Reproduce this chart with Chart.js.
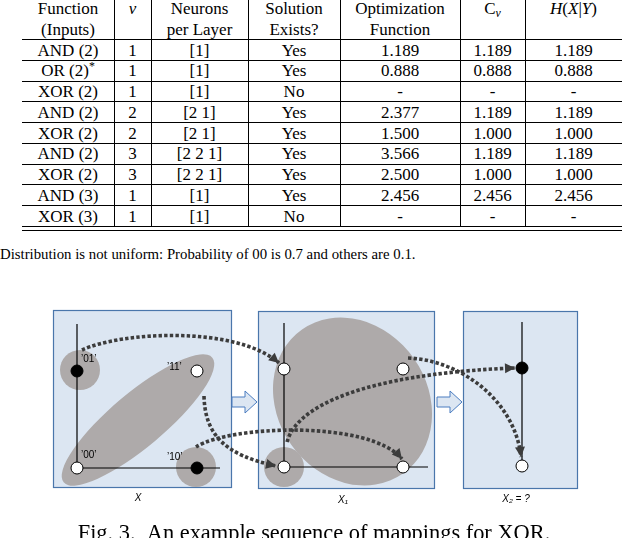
<!DOCTYPE html>
<html><head><meta charset="utf-8">
<script src="https://cdn.jsdelivr.net/npm/chart.js@4.4.0/dist/chart.umd.min.js"></script>
<style>
html,body{margin:0;padding:0;background:#fff;}
#page{position:relative;width:624px;height:538px;overflow:hidden;font-family:"Liberation Serif","Times New Roman",serif;color:#000;}
.cell{position:absolute;text-align:center;font-size:17px;line-height:21px;white-space:nowrap;}
.hl{position:absolute;height:1px;background:#000;}
.vl{position:absolute;width:1px;background:#000;}
#note{position:absolute;left:0;top:245px;font-size:14.8px;line-height:18px;white-space:nowrap;}
#cv{position:absolute;left:0;top:290px;}
#caption{position:absolute;left:0;width:628px;top:522px;text-align:center;font-size:22.4px;line-height:22px;white-space:nowrap;}
i{font-style:italic;}
sub{font-size:70%;vertical-align:-3px;line-height:0;}
sup{font-size:70%;vertical-align:6px;line-height:0;}
</style>
</head><body>
<div id="page">
  <div id="table"></div>
  <div id="note">Distribution is not uniform: Probability of 00 is 0.7 and others are 0.1.</div>
  <canvas id="cv" width="624" height="248"></canvas>
  <div id="caption">Fig. 3.&nbsp;&nbsp;An example sequence of mappings for XOR.</div>
</div>
<script>
// ---------- table data ----------
const headers = ['Function<br>(Inputs)', '<i>&nu;</i>', 'Neurons<br>per Layer', 'Solution<br>Exists?', 'Optimization<br>Function', 'C<sub><i>&nu;</i></sub>', '<i>H</i>(<i>X</i>|<i>Y</i>)'];
const functions = ['AND (2)', 'OR (2)<sup>*</sup>', 'XOR (2)', 'AND (2)', 'XOR (2)', 'AND (2)', 'XOR (2)', 'AND (3)', 'XOR (3)'];
const nuValues = ['1', '1', '1', '2', '2', '3', '3', '1', '1'];
const neurons = ['[1]', '[1]', '[1]', '[2 1]', '[2 1]', '[2 2 1]', '[2 2 1]', '[1]', '[1]'];
const solutionExists = ['Yes', 'Yes', 'No', 'Yes', 'Yes', 'Yes', 'Yes', 'Yes', 'No'];
const optimization = ['1.189', '0.888', '-', '2.377', '1.500', '3.566', '2.500', '2.456', '-'];
const cNu = ['1.189', '0.888', '-', '1.189', '1.000', '1.189', '1.000', '2.456', '-'];
const hXY = ['1.189', '0.888', '-', '1.189', '1.000', '1.189', '1.000', '2.456', '-'];

// ---------- diagram data ----------
const inputLabels = ['00', '01', '10', '11'];           // input x = (first bit, second bit)
const inputClass = [0, 1, 1, 0];                        // XOR output: 1 = black
const hiddenPoints = [[0, 0], [0, 1], [1, 0], [1, 1]];  // X1 points
const hiddenClass = [0, 0, 0, 0];
const outputValues = [1, 0];                            // X2 values
const outputClass = [1, 0];
const axisLabels = ['X', 'X\u2081', 'X\u2082 = ?'];

// ---------- build table ----------
const colEdges = [22, 114, 151, 248, 340, 460, 525, 622];
const tbl = document.getElementById('table');
function add(cls, style, html) {
  const d = document.createElement('div'); d.className = cls;
  Object.assign(d.style, style); if (html !== undefined) d.innerHTML = html; tbl.appendChild(d);
}
const rowH = 20.75, firstCenter = 50, headLine = 39.5;
headers.forEach((h, c) => {
  add('cell', {left: colEdges[c] + 'px', width: (colEdges[c + 1] - colEdges[c]) + 'px', top: '-2px'}, h);
});
const cols = [functions, nuValues, neurons, solutionExists, optimization, cNu, hXY];
for (let r = 0; r < functions.length; r++) {
  cols.forEach((col, c) => {
    add('cell', {left: colEdges[c] + 'px', width: (colEdges[c + 1] - colEdges[c]) + 'px', top: (firstCenter + rowH * r - 10.5) + 'px'}, col[r]);
  });
}
for (let k = 0; k <= functions.length; k++) {
  add('hl', {left: '22px', width: '600px', top: Math.round(headLine + rowH * k - 0.5) + 'px'});
}
add('hl', {left: '22px', width: '600px', top: '230px'});
for (let c = 1; c < colEdges.length - 1; c++) {
  add('vl', {left: colEdges[c] + 'px', top: '0px', height: '226px'});
}

// ---------- diagram layout ----------
const panels = [
  {ox: 77, oy: 468, ux: 120, uy: 97},
  {ox: 284, oy: 467, ux: 119, uy: 98},
  {ox: 522, oy: 466, ux: 0, uy: 98}
];
const mk = (p, a, b) => ({x: panels[p].ox + panels[p].ux * a, y: panels[p].oy - panels[p].uy * b});
const col = c => c ? '#000000' : '#ffffff';

const ds = [
  {data: inputLabels.map(l => mk(0, +l[0], +l[1])), backgroundColor: inputClass.map(col)},
  {data: hiddenPoints.map(p => mk(1, p[0], p[1])), backgroundColor: hiddenClass.map(col)},
  {data: outputValues.map(v => mk(2, 0, v)), backgroundColor: outputClass.map(col)}
].map(d => Object.assign(d, {borderColor: '#000', borderWidth: 1, pointRadius: 6, pointHoverRadius: 6}));

const GRAY = '#aeaaaa', PANEL = '#dce6f2', EDGE = '#4a76ab', DOT = '#3c3c3c';

const deco = {
  id: 'deco',
  beforeDatasetsDraw(chart) {
    const ctx = chart.ctx, xs = chart.scales.x, ys = chart.scales.y;
    const X = v => xs.getPixelForValue(v), Y = v => ys.getPixelForValue(v);
    ctx.save();
    // panels
    [[53, 310, 231, 487], [258, 311, 434, 488], [463, 311, 577, 488]].forEach(r => {
      ctx.fillStyle = PANEL; ctx.strokeStyle = EDGE; ctx.lineWidth = 1.2;
      ctx.fillRect(X(r[0]), Y(r[1]), X(r[2]) - X(r[0]), Y(r[3]) - Y(r[1]));
      ctx.strokeRect(X(r[0]) + 0.5, Y(r[1]) + 0.5, X(r[2]) - X(r[0]), Y(r[3]) - Y(r[1]));
    });
    // gray groups
    ctx.fillStyle = GRAY;
    const ell = (cx, cy, a, b, ang) => { ctx.beginPath(); ctx.ellipse(X(cx), Y(cy), a, b, ang * Math.PI / 180, 0, Math.PI * 2); ctx.fill(); };
    ell(80, 370, 20, 20, 0);
    ell(196, 467, 20, 20, 0);
    ell(138, 420, 97, 27, -40);
    ell(352.5, 401.5, 88, 75, 55);
    ell(284, 467, 20, 20, 0);
    // axes
    ctx.strokeStyle = '#000'; ctx.lineWidth = 1.2; ctx.setLineDash([]);
    const ln = (x1, y1, x2, y2) => { ctx.beginPath(); ctx.moveTo(X(x1), Y(y1)); ctx.lineTo(X(x2), Y(y2)); ctx.stroke(); };
    ln(77, 324, 77, 468); ln(77, 468, 220, 468);
    ln(284, 323, 284, 467); ln(284, 467, 428, 467);
    ln(522, 322, 522, 466);
    // hollow block arrows
    [[232, 245, 257], [437, 450, 462]].forEach(a => {
      const cy = 402;
      ctx.beginPath();
      ctx.moveTo(X(a[0]), Y(cy - 5)); ctx.lineTo(X(a[1]), Y(cy - 5)); ctx.lineTo(X(a[1]), Y(cy - 11));
      ctx.lineTo(X(a[2]), Y(cy)); ctx.lineTo(X(a[1]), Y(cy + 11)); ctx.lineTo(X(a[1]), Y(cy + 5));
      ctx.lineTo(X(a[0]), Y(cy + 5)); ctx.closePath();
      ctx.fillStyle = PANEL; ctx.fill();
      ctx.strokeStyle = '#4a7cc0'; ctx.lineWidth = 1; ctx.stroke();
    });
    ctx.restore();
  },
  afterDatasetsDraw(chart) {
    const ctx = chart.ctx, xs = chart.scales.x, ys = chart.scales.y;
    const X = v => xs.getPixelForValue(v), Y = v => ys.getPixelForValue(v);
    ctx.save();
    const curves = [
      [[82, 350], [120, 332], [235, 325], [279, 363]],
      [[204, 396], [205, 435], [225, 455], [276, 466]],
      [[196, 447], [230, 425], [370, 420], [402, 459]],
      [[287, 442], [300, 395], [400, 372], [515, 368]],
      [[408, 358], [460, 360], [515, 400], [521, 457]]
    ];
    curves.forEach(c => {
      ctx.strokeStyle = DOT; ctx.lineWidth = 3.6; ctx.setLineDash([3.4, 2.2]); ctx.lineCap = 'butt';
      ctx.beginPath();
      ctx.moveTo(X(c[0][0]), Y(c[0][1]));
      ctx.bezierCurveTo(X(c[1][0]), Y(c[1][1]), X(c[2][0]), Y(c[2][1]), X(c[3][0]), Y(c[3][1]));
      ctx.stroke();
      // arrowhead
      const tx = X(c[3][0]), ty = Y(c[3][1]);
      let dx = tx - X(c[2][0]), dy = ty - Y(c[2][1]);
      const L = Math.hypot(dx, dy); dx /= L; dy /= L;
      const len = 10, hw = 5;
      ctx.setLineDash([]);
      ctx.fillStyle = DOT;
      ctx.beginPath();
      ctx.moveTo(tx, ty);
      ctx.lineTo(tx - dx * len - dy * hw, ty - dy * len + dx * hw);
      ctx.lineTo(tx - dx * len + dy * hw, ty - dy * len - dx * hw);
      ctx.closePath(); ctx.fill();
    });
    // point labels
    ctx.fillStyle = '#000';
    ctx.font = '10px "Liberation Sans", Arial, sans-serif';
    ctx.textBaseline = 'middle'; ctx.textAlign = 'left';
    const lblPos = {'01': [81, 359], '11': [167, 367], '00': [81, 455], '10': [167, 457]};
    inputLabels.forEach(l => ctx.fillText('\u2019' + l + '\u2019', X(lblPos[l][0]), Y(lblPos[l][1])));
    // axis labels
    ctx.font = 'italic 10px "Liberation Sans", Arial, sans-serif';
    ctx.textAlign = 'center';
    [[138, 498], [343, 500], [516, 499]].forEach((p, i) => ctx.fillText(axisLabels[i], X(p[0]), Y(p[1])));
    ctx.restore();
  }
};

new Chart(document.getElementById('cv'), {
  type: 'scatter',
  data: {datasets: ds},
  options: {
    responsive: false, animation: false, events: [],
    layout: {padding: 0, autoPadding: false},
    plugins: {legend: {display: false}, tooltip: {enabled: false}},
    scales: {
      x: {type: 'linear', min: 0, max: 624, display: false},
      y: {type: 'linear', min: 290, max: 538, reverse: true, display: false}
    }
  },
  plugins: [deco]
});
</script>
</body></html>
